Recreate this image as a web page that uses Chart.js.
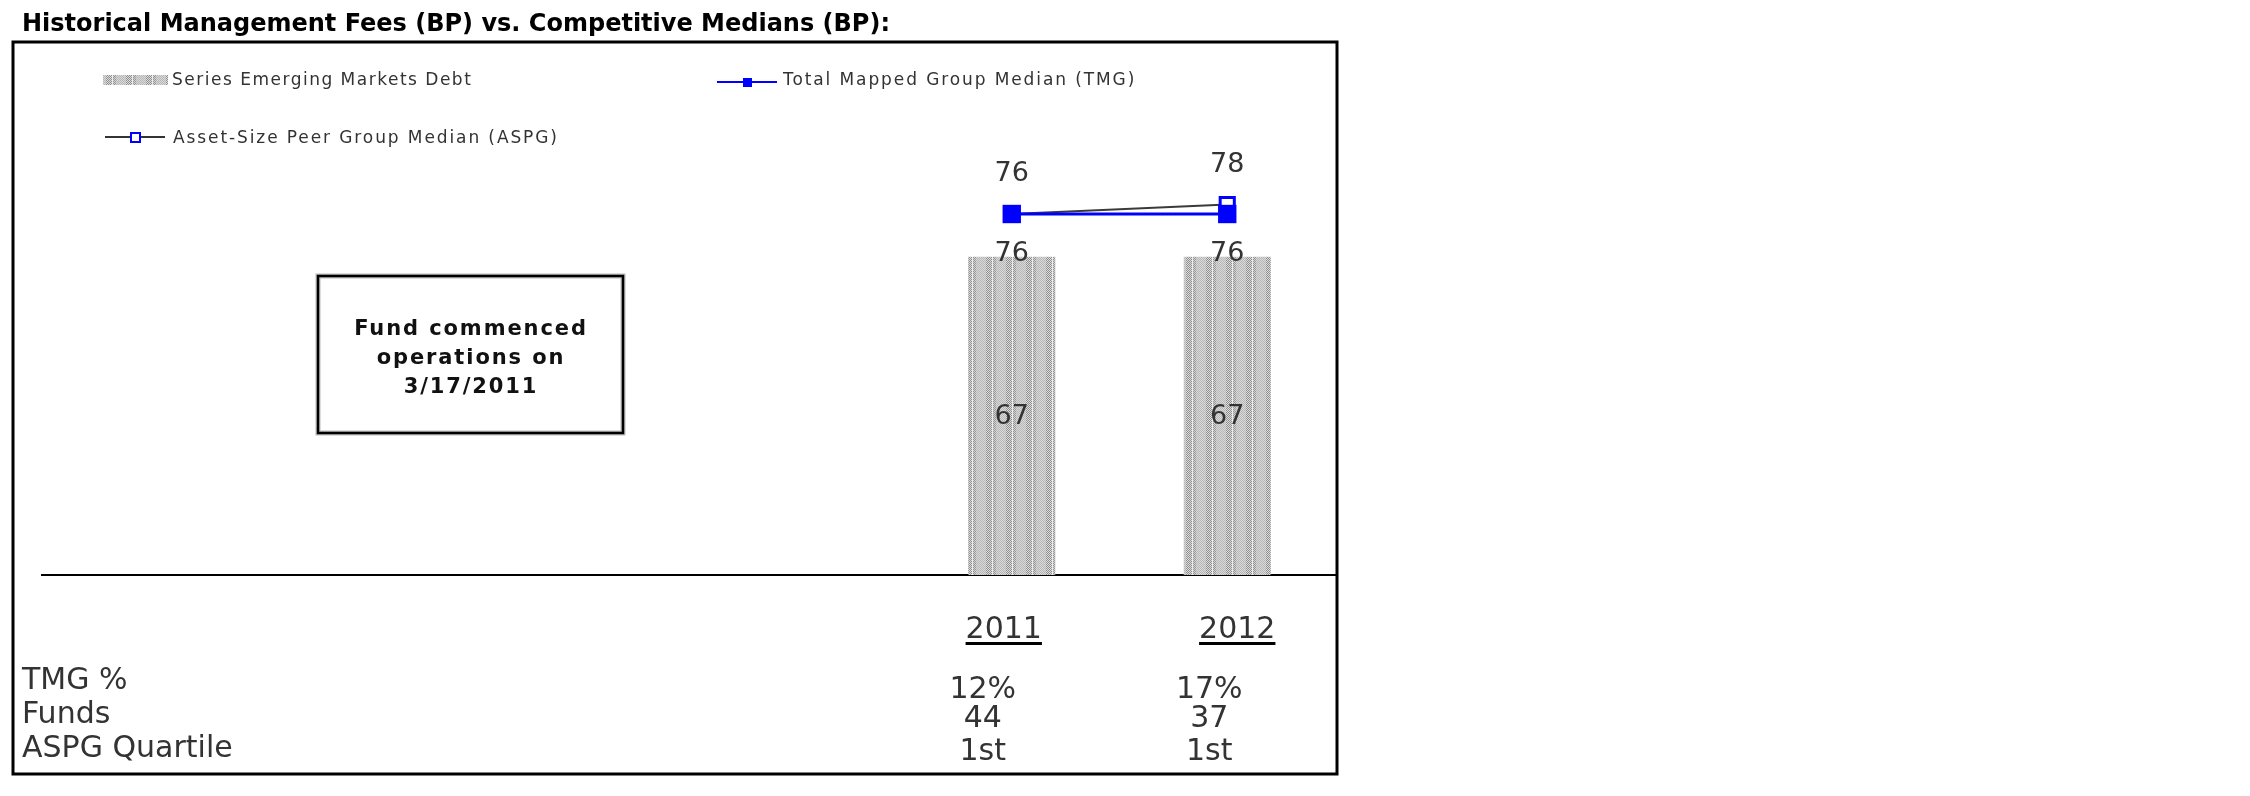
<!DOCTYPE html>
<html>
<head>
<meta charset="utf-8">
<title>Historical Management Fees</title>
<script src="https://cdn.jsdelivr.net/npm/chart.js@4.4.1/dist/chart.umd.min.js"></script>
<style>
  html, body { margin: 0; padding: 0; background: #fff; }
  canvas { display: block; }
</style>
</head>
<body>
<canvas id="feesChart" width="2250" height="796"></canvas>
<script>
// fund only has data from 2011 on, earlier slots stay empty
const categories = ['', '', '', '', '2011', '2012'];
const fundFees = [null, null, null, null, 67, 67];
const tmgMedian = [null, null, null, null, 76, 76];
const aspgMedian = [null, null, null, null, 76, 78];

const tableYears = ['2011', '2012'];
const tableRows = ['TMG %', 'Funds', 'ASPG Quartile'];
const tmgPct = ['12%', '17%'];
const fundCounts = ['44', '37'];
const aspgQuartile = ['1st', '1st'];

const titleText = 'Historical Management Fees (BP) vs. Competitive Medians (BP):';
const noteLines = ['Fund commenced', 'operations on', '3/17/2011'];

const FONT = '"DejaVu Sans", Verdana, sans-serif';
const TEXT = '#333333';

// stippled grey fill, roughly like the old excel pattern
function makeBarPattern(ctx) {
  const tile = document.createElement('canvas');
  tile.width = 20;
  tile.height = 4;
  const g = tile.getContext('2d');
  for (let x = 0; x < 20; x++) {
    for (let y = 0; y < 4; y++) {
      const on = (x + y) % 2 === 0;
      let col;
      if (x < 6 || x >= 16) col = on ? '#b8b8b8' : '#d8d8d8';
      else if (x < 12) col = on ? '#8e8e8e' : '#dedede';
      else if (x === 12) col = '#ececec';
      else col = on ? '#969696' : '#d2d2d2';
      g.fillStyle = col;
      g.fillRect(x, y, 1, 1);
    }
  }
  return ctx.createPattern(tile, 'repeat');
}

const ctx = document.getElementById('feesChart').getContext('2d');
const barPattern = makeBarPattern(ctx);

// data labels: bar value centred, TMG below its marker, ASPG above
const valueLabels = {
  id: 'valueLabels',
  afterDatasetsDraw(chart) {
    const c = chart.ctx;
    c.save();
    c.font = '27px ' + FONT;
    c.fillStyle = TEXT;
    c.textAlign = 'center';
    c.textBaseline = 'alphabetic';
    chart.data.datasets.forEach((ds, i) => {
      const meta = chart.getDatasetMeta(i);
      meta.data.forEach((el, j) => {
        const v = ds.data[j];
        if (v == null) return;
        let y;
        if (ds.type === 'bar') y = (el.y + el.base) / 2 + 8;
        else if (ds.labelPos === 'below') y = el.y + 47;
        else y = el.y - 33;
        c.fillText(String(v), el.x, y);
      });
    });
    c.restore();
  }
};

const decorations = {
  id: 'decorations',
  afterDraw(chart) {
    const c = chart.ctx;
    const x = chart.scales.x;
    c.save();

    // title
    c.fillStyle = '#000';
    c.font = 'bold 24px ' + FONT;
    c.textAlign = 'left';
    c.fillText(titleText, 22, 31);

    // outer frame
    c.strokeStyle = '#000';
    c.lineWidth = 3;
    c.strokeRect(13, 42, 1324, 732);

    // legend
    c.font = '17px ' + FONT;
    c.letterSpacing = '1.5px';
    c.fillStyle = barPattern;
    c.fillRect(103, 75, 65, 10);
    c.fillStyle = TEXT;
    c.fillText(chart.data.datasets[2].label, 172, 85);

    c.letterSpacing = '1.9px';
    c.strokeStyle = '#0000ff';
    c.lineWidth = 2;
    c.beginPath(); c.moveTo(717, 82); c.lineTo(777, 82); c.stroke();
    c.fillStyle = '#0000ff';
    c.fillRect(743, 78, 9, 9);
    c.fillStyle = TEXT;
    c.fillText(chart.data.datasets[0].label, 783, 85);

    c.strokeStyle = '#333';
    c.beginPath(); c.moveTo(105, 137); c.lineTo(165, 137); c.stroke();
    c.fillStyle = '#fff';
    c.fillRect(131, 133, 9, 9);
    c.strokeStyle = '#0000ff';
    c.strokeRect(131, 133, 9, 9);
    c.fillStyle = TEXT;
    c.fillText(chart.data.datasets[1].label, 173, 143);
    c.letterSpacing = '0px';

    // note box
    c.strokeStyle = '#bbb';
    c.lineWidth = 5;
    c.strokeRect(318, 276, 305, 157);
    c.strokeStyle = '#000';
    c.lineWidth = 2.5;
    c.strokeRect(318, 276, 305, 157);
    c.fillStyle = '#111';
    c.font = 'bold 21px ' + FONT;
    c.letterSpacing = '1.9px';
    c.textAlign = 'center';
    [335, 364, 393].forEach((yy, i) => c.fillText(noteLines[i], 471, yy));
    c.letterSpacing = '0px';

    // table under the axis
    c.font = '30px ' + FONT;
    c.fillStyle = TEXT;
    c.textAlign = 'left';
    const labelBase = [689, 723, 757];
    tableRows.forEach((r, i) => c.fillText(r, 22, labelBase[i]));

    const cols = [categories.indexOf('2011'), categories.indexOf('2012')];
    const headerShift = [-8, 10];
    const valueShift = [-29, -18];
    const rows = [tmgPct, fundCounts, aspgQuartile];
    const valueBase = [698, 727, 760];
    c.textAlign = 'center';
    cols.forEach((ci, k) => {
      const cx = x.getPixelForValue(ci);
      const hx = cx + headerShift[k];
      c.fillStyle = TEXT;
      c.fillText(tableYears[k], hx, 638);
      const w = c.measureText(tableYears[k]).width;
      c.fillStyle = '#000';
      c.fillRect(hx - w / 2, 642, w, 3);
      c.fillStyle = TEXT;
      rows.forEach((row, r) => c.fillText(row[k], cx + valueShift[k], valueBase[r]));
    });

    c.restore();
  }
};

new Chart(ctx, {
  data: {
    labels: categories,
    datasets: [
      {
        type: 'line',
        label: 'Total Mapped Group Median (TMG)',
        data: tmgMedian,
        borderColor: '#0000ff',
        backgroundColor: '#0000ff',
        borderWidth: 3,
        pointStyle: 'rect',
        pointRadius: 13,
        pointBorderWidth: 0,
        labelPos: 'below',
        order: 1
      },
      {
        type: 'line',
        label: 'Asset-Size Peer Group Median (ASPG)',
        data: aspgMedian,
        borderColor: '#3a3a3a',
        borderWidth: 2,
        pointStyle: 'rect',
        pointRadius: 10,
        pointBackgroundColor: '#ffffff',
        pointBorderColor: '#0000ff',
        pointBorderWidth: 3,
        labelPos: 'above',
        order: 2
      },
      {
        type: 'bar',
        label: 'Series Emerging Markets Debt',
        data: fundFees,
        backgroundColor: barPattern,
        barPercentage: 0.404,
        categoryPercentage: 1,
        order: 3
      }
    ]
  },
  options: {
    responsive: false,
    animation: false,
    layout: { padding: { top: 100, bottom: 221, left: 42, right: 915 } },
    plugins: {
      legend: { display: false },
      tooltip: { enabled: false }
    },
    scales: {
      x: {
        grid: { display: false, drawTicks: false },
        ticks: { display: false },
        border: { color: '#000', width: 2 }
      },
      y: { display: false, min: 0, max: 100 }
    }
  },
  plugins: [valueLabels, decorations]
});
</script>
</body>
</html>
